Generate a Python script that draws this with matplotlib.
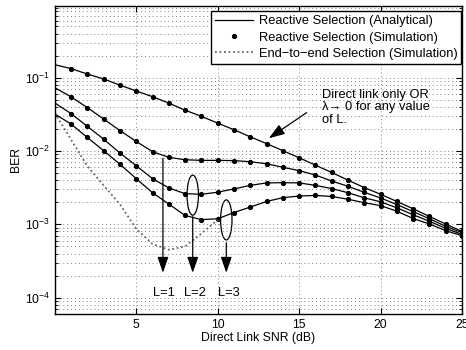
import matplotlib
matplotlib.use('Agg')
import matplotlib.pyplot as plt
from matplotlib.patches import Ellipse
from matplotlib.ticker import LogLocator, NullFormatter
import numpy as np

plt.rcParams['font.family'] = ['Liberation Sans', 'DejaVu Sans']
plt.rcParams['font.size'] = 8.8

# direct link SNR (dB)
snr = np.arange(0, 26)

# BER
ber_direct = [0.15, 0.133, 0.112, 0.096, 0.079, 0.066, 0.055, 0.045, 0.036, 0.0297,
              0.024, 0.0195, 0.0156, 0.0126, 0.0101, 0.0081, 0.0064, 0.0051, 0.0040,
              0.00317, 0.00257, 0.00205, 0.00163, 0.00128, 0.00101, 0.00080]
ber_L1 = [0.073, 0.0548, 0.039, 0.0273, 0.019, 0.0135, 0.0098, 0.0082, 0.0076, 0.00745,
          0.00745, 0.0074, 0.00715, 0.0067, 0.0060, 0.0054, 0.0047, 0.0039, 0.0033,
          0.00273, 0.00229, 0.00186, 0.00149, 0.00119, 0.00094, 0.00077]
ber_L2 = [0.0453, 0.0323, 0.0217, 0.0145, 0.0094, 0.0063, 0.0042, 0.00314, 0.00262,
          0.00257, 0.00274, 0.00304, 0.0034, 0.00367, 0.0037, 0.00367, 0.0034, 0.00307,
          0.0027, 0.0023, 0.00203, 0.00168, 0.00135, 0.0011, 0.00088, 0.00073]
ber_L3 = [0.032, 0.0233, 0.0153, 0.0101, 0.0066, 0.0042, 0.0027, 0.00189, 0.00132,
          0.00116, 0.00119, 0.00145, 0.00172, 0.00205, 0.00231, 0.00243, 0.00248, 0.0024,
          0.0022, 0.00197, 0.0018, 0.00151, 0.0012, 0.00101, 0.00082, 0.0007]
# end-to-end selection (simulation)
snr_e2e = np.arange(0, 11)
ber_e2e = [0.033, 0.0143, 0.0062, 0.0034, 0.00188, 0.00087, 0.00054, 0.00045, 0.0005,
           0.00075, 0.00115]

fig = plt.figure(figsize=(4.66, 3.5), dpi=100)
ax = fig.add_axes([0.1175, 0.103, 0.874, 0.880])

for b in [ber_direct, ber_L1, ber_L2, ber_L3]:
    ax.semilogy(snr, b, 'k-', lw=0.9)
    ax.semilogy(snr[1:], b[1:], 'k.', ms=5.5)
ax.semilogy(snr_e2e, ber_e2e, color='0.4', ls=(0, (1, 1.5)), lw=1.3)

ax.set_xlim(0, 25)
ax.set_ylim(6e-5, 0.95)
ax.set_xticks([5, 10, 15, 20, 25])
ax.set_yticks([1e-4, 1e-3, 1e-2, 1e-1])
ax.yaxis.set_minor_locator(LogLocator(base=10, subs=np.arange(2, 10), numticks=20))
ax.yaxis.set_minor_formatter(NullFormatter())
ax.tick_params(which='both', direction='in', top=True, right=True)
ax.tick_params(which='major', length=4)
ax.tick_params(which='minor', length=2)
ax.grid(True, which='major', ls=(0, (1, 3)), color='0.5', lw=0.7)
ax.grid(True, which='minor', axis='y', ls=(0, (1, 3)), color='0.5', lw=0.7)
for s in ax.spines.values():
    s.set_linewidth(1.0)

ax.set_xlabel('Direct Link SNR (dB)', labelpad=1)
ax.set_ylabel('BER', labelpad=2)

# legend
h1, = ax.plot([], [], 'k-', lw=0.9)
h2, = ax.plot([], [], 'k.', ms=5.5)
h3, = ax.plot([], [], color='0.4', ls=(0, (1, 1.5)), lw=1.3)
leg = ax.legend([h1, h2, h3],
                ['Reactive Selection (Analytical)', 'Reactive Selection (Simulation)',
                 'End\u2212to\u2212end Selection (Simulation)'],
                loc='upper right', bbox_to_anchor=(0.998, 0.982), fancybox=False,
                framealpha=1, edgecolor='k', handlelength=3.0, handletextpad=0.4,
                borderpad=0.3, labelspacing=0.32, borderaxespad=0.0,
                fontsize=9.3)
leg.get_frame().set_linewidth(1.0)

# annotations
arrow = dict(arrowstyle='-|>,head_length=1.1,head_width=0.38', color='k', lw=0.9)
ax.annotate('', xy=(13.0, 0.0142), xytext=(15.6, 0.035), arrowprops=arrow)
ax.text(16.4, 0.071, 'Direct link only OR\n\u03bb\u2192 0 for any value\nof L.',
        va='top', ha='left', linespacing=1.1, fontsize=9.3)

arrow_x = [6.64, 8.47, 10.53]
arrow_top = [0.0087, 0.00139, 0.00061]
labels = ['L=1', 'L=2', 'L=3']
label_x = [6.7, 8.6, 10.7]
for ax_x, top, lab, lx in zip(arrow_x, arrow_top, labels, label_x):
    ax.annotate('', xy=(ax_x, 2.0e-4), xytext=(ax_x, top), arrowprops=arrow)
    ax.text(lx, 1.17e-4, lab, ha='center', va='center', fontsize=9.3)

# ellipses around the L=2 and L=3 minima
ell_center = [(8.47, 0.0025), (10.53, 0.00115)]
for cx, cy in ell_center:
    p = ax.transAxes.inverted().transform(ax.transData.transform((cx, cy)))
    ax.add_patch(Ellipse(p, 0.028, 0.13, transform=ax.transAxes, fill=False,
                         ec='k', lw=0.9))

fig.savefig('out.png', dpi=100)
